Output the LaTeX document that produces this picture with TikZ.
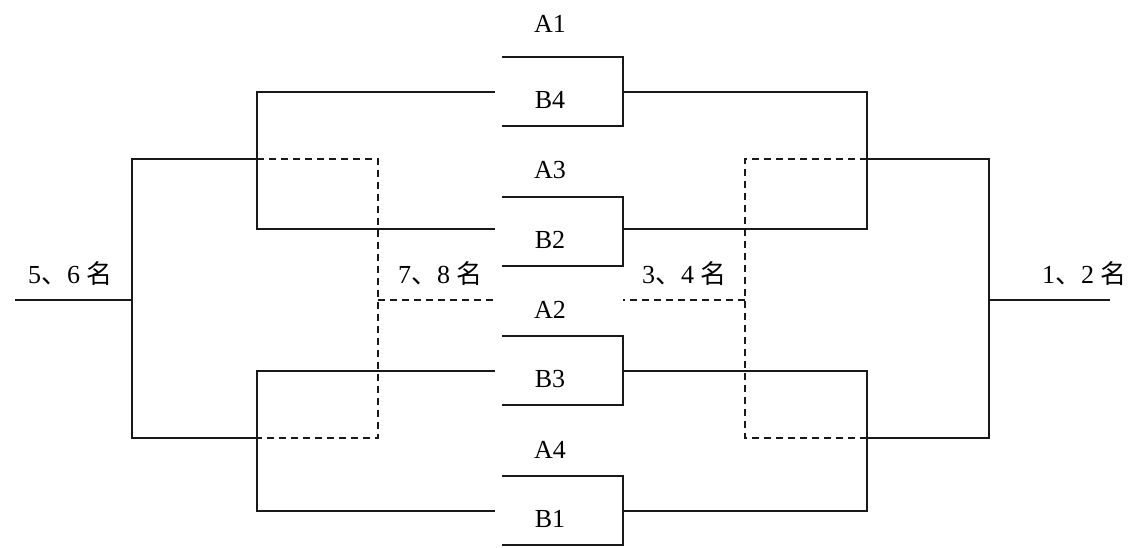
\documentclass[tikz,border=0pt]{standalone}
\usepackage{fontspec}
\setmainfont{Liberation Serif}
\newfontfamily\cjk{Noto Sans CJK SC}
\newcommand{\rankname}[2]{#1{\cjk 、}#2\ {\cjk 名}}
\tikzset{
    win line/.style={draw=black!90, line width=1.6pt},
    lose line/.style={draw=black!90, line width=1.6pt, dash pattern=on 7pt off 5pt},
    team/.style={anchor=base, inner sep=0pt, font=\fontsize{26}{30}\selectfont},
    place/.style={anchor=base west, inner sep=0pt, font=\fontsize{26}{30}\selectfont},
}
\begin{document}
\begin{tikzpicture}[x=1pt, y=-1pt]
    \useasboundingbox (0,0) rectangle (1135,547);

    % the four first-round matches
    \foreach \i/\t/\m/\b/\ta/\ya/\tb/\yb in {
        1/57/92/126/A1/32/B4/108,
        2/197/229/266/A3/178/B2/248,
        3/336/371/405/A2/318/B3/387,
        4/476/511/545/A4/458/B1/527} {
        \coordinate (top\i) at (502,\t);
        \coordinate (corner\i) at (623,\b);
        \coordinate (bot\i) at (502,\b);
        \coordinate (in\i) at (495,\m);
        \coordinate (out\i) at (623,\m);
        \draw[win line] (top\i) -| (corner\i) -- (bot\i);
        \node (teamA\i) at (550,\ya) [team] {\ta};
        \node (teamB\i) at (550,\yb) [team] {\tb};
    }

    % fork points
    \coordinate (lfork12) at (257,159);
    \coordinate (lfork34) at (257,438);
    \coordinate (rfork12) at (867,159);
    \coordinate (rfork34) at (867,438);
    \coordinate (lfinal) at (132,300);
    \coordinate (rfinal) at (989,300);
    \coordinate (lend) at (15,300);
    \coordinate (rend) at (1110,300);
    \coordinate (lloser) at (378,300);
    \coordinate (rloser) at (745,300);
    \coordinate (lloser end) at (497,300);
    \coordinate (rloser end) at (623,300);

    % left half
    \draw[win line] (in1) -- (in1 -| lfork12) -- (in2 -| lfork12) -- (in2);
    \draw[win line] (in3) -- (in3 -| lfork34) -- (in4 -| lfork34) -- (in4);
    \draw[win line] (lfork12) -- (lfork12 -| lfinal) -- (lfork34 -| lfinal) -- (lfork34);
    \draw[win line] (lfinal) -- (lend);
    \draw[lose line] (lfork12) -- (lfork12 -| lloser) -- (lfork34 -| lloser) -- (lfork34);
    \draw[lose line] (lloser) -- (lloser end);

    % right half
    \draw[win line] (out1) -- (out1 -| rfork12) -- (out2 -| rfork12) -- (out2);
    \draw[win line] (out3) -- (out3 -| rfork34) -- (out4 -| rfork34) -- (out4);
    \draw[win line] (rfork12) -- (rfork12 -| rfinal) -- (rfork34 -| rfinal) -- (rfork34);
    \draw[win line] (rfinal) -- (rend);
    \draw[lose line] (rfork12) -- (rfork12 -| rloser) -- (rfork34 -| rloser) -- (rfork34);
    \draw[lose line] (rloser) -- (rloser end);

    % places
    \node (place56) at (28,283) [place] {\rankname{5}{6}};
    \node (place78) at (398,283) [place] {\rankname{7}{8}};
    \node (place34) at (642,283) [place] {\rankname{3}{4}};
    \node (place12) at (1042,283) [place] {\rankname{1}{2}};
\end{tikzpicture}
\end{document}
